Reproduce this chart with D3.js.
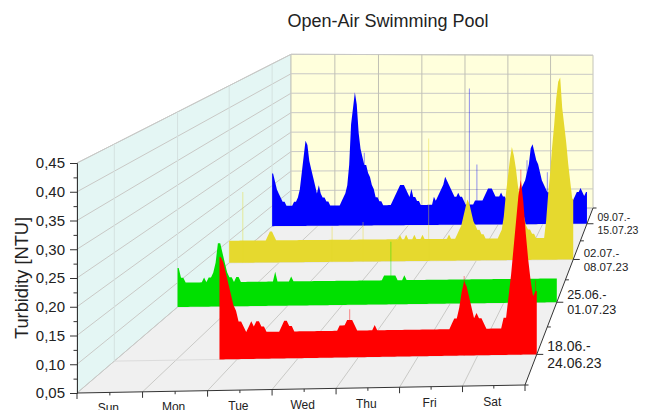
<!DOCTYPE html>
<html>
<head>
    <title>Open-Air Swimming Pool</title>
    <script src="https://d3js.org/d3.v7.min.js"></script>
    <style>
        html, body { margin: 0; padding: 0; background: #fff; overflow: hidden; }
        svg { display: block; font-family: "Liberation Sans", Arial, sans-serif; fill: #222; }
    </style>
</head>
<body>
    <svg id="chart" width="650" height="410"></svg>

    <script>
        const days = ["Sun", "Mon", "Tue", "Wed", "Thu", "Fri", "Sat"];
        const weeks = [["18.06.-", "24.06.23"], ["25.06.-", "01.07.23"], ["02.07.-", "08.07.23"], ["09.07.-", "15.07.23"]];
        const yTicks = [0.05, 0.10, 0.15, 0.20, 0.25, 0.30, 0.35, 0.40, 0.45];
        const yMinorTicks = [0.075, 0.125, 0.175, 0.225, 0.275, 0.325, 0.375, 0.425];

        // hourly turbidity, one row per day
        const redValues = [
            null,null,null,null,null,null,null,null,null,null,null,null,null,null,null,null,null,null,null,null,null,null,null,null,
            null,null,null,null,null,null,null,null,null,null,null,null,null,null,null,null,null,.24,.23,.21,.19,.17,.15,.14,
            .12,.12,.11,.10,.11,.12,.11,.12,.12,.11,.11,.10,.10,.10,.10,.10,.10,.11,.12,.12,.11,.11,.10,.10,
            .10,.10,.10,.10,.10,.10,.10,.10,.10,.10,.10,.10,.10,.10,.10,.10,.11,.11,.11,.12,.12,.12,.11,.10,
            .10,.10,.10,.10,.10,.10,.11,.10,.10,.10,.10,.10,.10,.10,.10,.10,.10,.10,.10,.10,.10,.10,.10,.10,
            .10,.10,.10,.10,.10,.10,.10,.10,.10,.10,.10,.10,.10,.11,.12,.12,.14,.17,.19,.18,.16,.14,.12,.13,
            .12,.12,.11,.10,.10,.10,.10,.10,.10,.10,.12,.12,.16,.20,.25,.30,.35,.38,.34,.28,.23,.19,.16,.17
        ];
        const greenValues = [
            .13,.11,.11,.10,.10,.10,.10,.10,.10,.10,.10,.11,.10,.11,.11,.12,.14,.18,.18,.16,.14,.12,.11,.11,
            .10,.11,.11,.10,.10,.10,.10,.10,.10,.10,.10,.10,.10,.10,.10,.10,.10,.10,.12,.10,.10,.10,.10,.10,
            .10,.11,.10,.10,.10,.10,.10,.10,.10,.10,.10,.10,.10,.10,.10,.10,.10,.10,.10,.10,.10,.10,.10,.10,
            .10,.10,.10,.10,.10,.10,.10,.10,.10,.10,.10,.10,.10,.10,.10,.10,.10,.10,.11,.11,.11,.11,.11,.11,
            .10,.10,.10,.11,.10,.10,.10,.10,.10,.10,.10,.10,.10,.10,.10,.10,.10,.10,.10,.10,.10,.10,.10,.10,
            .10,.10,.10,.10,.10,.10,.10,.10,.10,.10,.10,.10,.10,.10,.10,.10,.10,.10,.10,.10,.10,.10,.10,.10,
            .10,.10,.10,.10,.10,.10,.10,.10,.10,.10,.10,.10,.10,.10,.10,.10,.10,.10,.10,.10,.10,.10,.10,.10
        ];
        const yellowValues = [
            .10,.10,.10,.10,.10,.10,.10,.10,.10,.10,.10,.10,.10,.10,.10,.10,.10,.10,.11,.12,.12,.11,.10,.10,
            .10,.10,.10,.10,.10,.10,.10,.10,.10,.10,.10,.10,.10,.10,.10,.10,.10,.10,.10,.10,.10,.10,.10,.10,
            .10,.10,.10,.10,.10,.10,.10,.10,.10,.10,.10,.10,.10,.10,.10,.10,.10,.10,.10,.10,.10,.10,.10,.10,
            .10,.10,.10,.10,.10,.10,.10,.10,.10,.10,.11,.10,.10,.11,.10,.10,.10,.11,.10,.10,.10,.11,.10,.10,
            .10,.10,.10,.10,.10,.10,.10,.10,.10,.10,.11,.10,.10,.10,.11,.12,.13,.15,.17,.19,.18,.16,.14,.13,
            .12,.12,.11,.11,.10,.10,.10,.10,.10,.10,.10,.11,.12,.15,.20,.24,.28,.31,.29,.26,.22,.19,.17,.15,
            .13,.12,.12,.11,.11,.10,.10,.10,.10,.10,.14,.20,.25,.31,.36,.42,.46,.47,.40,.36,.32,.27,.23,.19
        ];
        const blueValues = [
            .18,.16,.14,.13,.12,.11,.11,.10,.10,.10,.10,.11,.11,.12,.14,.18,.22,.26,.25,.21,.19,.17,.15,.13,
            .15,.13,.12,.12,.11,.11,.10,.10,.10,.10,.10,.10,.11,.12,.13,.15,.20,.30,.34,.38,.35,.28,.24,.22,
            .20,.20,.18,.17,.15,.14,.12,.12,.11,.11,.10,.10,.10,.10,.10,.11,.12,.13,.14,.15,.15,.15,.14,.13,
            .12,.14,.12,.12,.11,.11,.10,.10,.10,.10,.10,.10,.10,.12,.11,.12,.13,.14,.15,.17,.16,.15,.14,.13,
            .12,.12,.13,.12,.12,.11,.10,.10,.10,.10,.10,.11,.11,.11,.11,.11,.12,.13,.14,.14,.14,.13,.12,.12,
            .12,.13,.12,.12,.11,.11,.11,.11,.11,.12,.12,.13,.14,.15,.16,.18,.20,.24,.25,.23,.21,.20,.18,.16,
            .15,.14,.13,.13,.13,.12,.11,.11,.11,.10,.10,.10,.10,.10,.10,.10,.11,.12,.13,.13,.14,.13,.12,.13
        ];

        // single thin readings [hour, value], these come out faint in the picture
        const redSpikes = [[92, .14], [138, .20], [161, .40], [167, .19]];
        const greenSpikes = [[93, .18]];
        const yellowSpikes = [[6, .21], [49, .13], [64, .14], [96, .33]];
        const blueSpikes = [[48, .23], [104, .39], [108, .20], [135, .21], [146, .18]];

        const series = [
            { name: "red", color: "#ff0000", values: redValues, spikes: redSpikes },
            { name: "green", color: "#00e000", values: greenValues, spikes: greenSpikes },
            { name: "yellow", color: "#e6d92e", values: yellowValues, spikes: yellowSpikes },
            { name: "blue", color: "#0000ff", values: blueValues, spikes: blueSpikes }
        ];

        const svg = d3.select("#chart");

        // floor corners on screen: front-left, front-right, back-right, back-left
        const corners = [[77, 393], [525, 385], [593, 208], [291, 210]];
        const wallHeight = 230;

        // unit square -> floor quad
        function makeHomography([p0, p1, p2, p3]) {
            const dx1 = p1[0] - p2[0], dy1 = p1[1] - p2[1];
            const dx2 = p3[0] - p2[0], dy2 = p3[1] - p2[1];
            const sx = p0[0] - p1[0] + p2[0] - p3[0], sy = p0[1] - p1[1] + p2[1] - p3[1];
            const det = dx1 * dy2 - dx2 * dy1;
            const g = (sx * dy2 - dx2 * sy) / det;
            const h = (dx1 * sy - sx * dy1) / det;
            return (u, v) => {
                const w = g * u + h * v + 1;
                return {
                    x: ((p1[0] * (1 + g) - p0[0]) * u + (p3[0] * (1 + h) - p0[0]) * v + p0[0]) / w,
                    y: ((p1[1] * (1 + g) - p0[1]) * u + (p3[1] * (1 + h) - p0[1]) * v + p0[1]) / w,
                    w
                };
            };
        }
        const floorPoint = makeHomography(corners);

        const hourScale = d3.scaleLinear().domain([0, 168]).range([0, 1]);
        const dayScale = d3.scaleLinear().domain([0, 7]).range([0, 1]);
        const depthScale = d3.scaleBand().domain(d3.range(weeks.length)).range([0, 1]);
        const valueScale = d3.scaleLinear().domain([0.05, 0.45]).range([0, 1]);

        function project(u, v, value) {
            const p = floorPoint(u, v);
            return [p.x, p.y - valueScale(value) * wallHeight / p.w];
        }
        const depthOf = i => depthScale(i) + depthScale.bandwidth() / 2;
        const pathOf = pts => "M" + pts.map(p => p.join(",")).join("L") + "Z";
        const lineBetween = (sel, a, b, color, width) => sel.append("line")
            .attr("x1", a[0]).attr("y1", a[1]).attr("x2", b[0]).attr("y2", b[1])
            .attr("stroke", color).attr("stroke-width", width || 1);

        // walls and floor
        const walls = svg.append("g");
        walls.append("path")
            .attr("d", pathOf([project(0, 0, .05), project(1, 0, .05), project(1, 1, .05), project(0, 1, .05)]))
            .attr("fill", "#f0f0f0");
        walls.append("path")
            .attr("d", pathOf([project(0, 0, .05), project(0, 1, .05), project(0, 1, .45), project(0, 0, .45)]))
            .attr("fill", "#e4f6f4").attr("stroke", "#c4c8c8");
        walls.append("path")
            .attr("d", pathOf([project(0, 1, .05), project(1, 1, .05), project(1, 1, .45), project(0, 1, .45)]))
            .attr("fill", "#ffffdc").attr("stroke", "#c4c4b8");

        // grid
        const gridColor = "#c9c9c6";
        yTicks.forEach(t => {
            lineBetween(walls, project(0, 0, t), project(0, 1, t), gridColor);
            lineBetween(walls, project(0, 1, t), project(1, 1, t), gridColor);
        });
        d3.range(1, 7).forEach(d => {
            const u = dayScale(d);
            lineBetween(walls, project(u, 0, .05), project(u, 1, .05), gridColor);
            lineBetween(walls, project(u, 1, .05), project(u, 1, .45), "#c0c0b4");
        });
        weeks.forEach((_, i) => {
            const v = depthOf(i);
            lineBetween(walls, project(0, v, .05), project(1, v, .05), "#dcdcdc");
            lineBetween(walls, project(0, v, .05), project(0, v, .45), "#d4e2e0");
        });

        // series, back row first
        const marks = svg.append("g");
        series.slice().reverse().forEach(s => {
            const v = depthOf(series.indexOf(s));
            const first = s.values.findIndex(d => d !== null);
            // each reading sits mid-hour, the ends are held out to the hour edges
            const rows = [{ hour: first, value: s.values[first] }]
                .concat(s.values.map((value, hour) => ({ hour: hour + .5, value })).filter(d => d.value !== null))
                .concat([{ hour: 168, value: s.values[167] }]);

            const area = d3.area()
                .x(d => project(hourScale(d.hour), v, .05)[0])
                .y0(d => project(hourScale(d.hour), v, .05)[1])
                .y1(d => project(hourScale(d.hour), v, d.value)[1]);

            marks.append("path").attr("d", area(rows)).attr("fill", s.color);

            s.spikes.forEach(([hour, value]) => {
                lineBetween(marks, project(hourScale(hour + .5), v, .05), project(hourScale(hour + .5), v, value), s.color, 1.1)
                    .attr("stroke-opacity", .4);
            });
        });

        // value axis is a plain d3 axis on the front-left edge
        const yAxisScale = d3.scaleLinear().domain([0.05, 0.45]).range([corners[0][1], corners[0][1] - wallHeight]);
        const yAxis = svg.append("g")
            .attr("transform", `translate(${corners[0][0]},0)`)
            .call(d3.axisLeft(yAxisScale).tickValues(yTicks).tickSize(7).tickPadding(5)
                .tickFormat(d => d3.format(".2f")(d).replace(".", ",")));
        yAxis.select(".domain").attr("stroke", "#333");
        yAxis.selectAll(".tick line").attr("stroke", "#333");
        yAxis.selectAll("text").attr("font-size", 15).attr("font-family", "inherit").attr("fill", "#222");
        svg.append("g")
            .attr("transform", `translate(${corners[0][0]},0)`)
            .call(d3.axisLeft(yAxisScale).tickValues(yMinorTicks).tickSize(3.5).tickFormat(""))
            .call(g => g.select(".domain").remove())
            .selectAll(".tick line").attr("stroke", "#333");

        // day axis along the front edge
        const axes = svg.append("g");
        lineBetween(axes, project(0, 0, .05), project(1, 0, .05), "#333");
        d3.range(0, 7.5, .5).forEach(d => {
            const p = project(dayScale(d), 0, .05);
            lineBetween(axes, p, [p[0], p[1] + (d % 1 === 0 ? 6 : 3)], "#333");
        });
        days.forEach((day, i) => {
            const p = project(dayScale(i + .5), 0, .05);
            axes.append("text").attr("x", p[0] - 1.5).attr("y", p[1] + 20)
                .attr("text-anchor", "middle").attr("font-size", 12).text(day);
        });

        // week axis along the right edge
        lineBetween(axes, project(1, 0, .05), project(1, 1, .05), "#333");
        d3.range(0, 1.01, .125).forEach(v => {
            const p = project(1, v, .05);
            const isMajor = Math.round(v * 8) % 2 === 1;
            lineBetween(axes, p, [p[0] + (isMajor ? 6.5 : 3.5), p[1]], "#333");
        });
        weeks.forEach((lines, i) => {
            const p = floorPoint(1, depthOf(i));
            const size = 15.2 / p.w;
            const label = axes.append("text").attr("font-size", size);
            lines.forEach((line, k) => {
                label.append("tspan").attr("x", p.x + 10.5)
                    .attr("y", p.y + size * .36 + (k - .5) * size * 1.22).text(line);
            });
        });

        svg.append("text").attr("x", 388).attr("y", 27).attr("text-anchor", "middle")
            .attr("font-size", 18).text("Open-Air Swimming Pool");

        svg.append("text").attr("transform", "translate(28,278) rotate(-90)").attr("text-anchor", "middle")
            .attr("font-size", 18.3).text("Turbidity [NTU]");
    </script>
</body>
</html>
